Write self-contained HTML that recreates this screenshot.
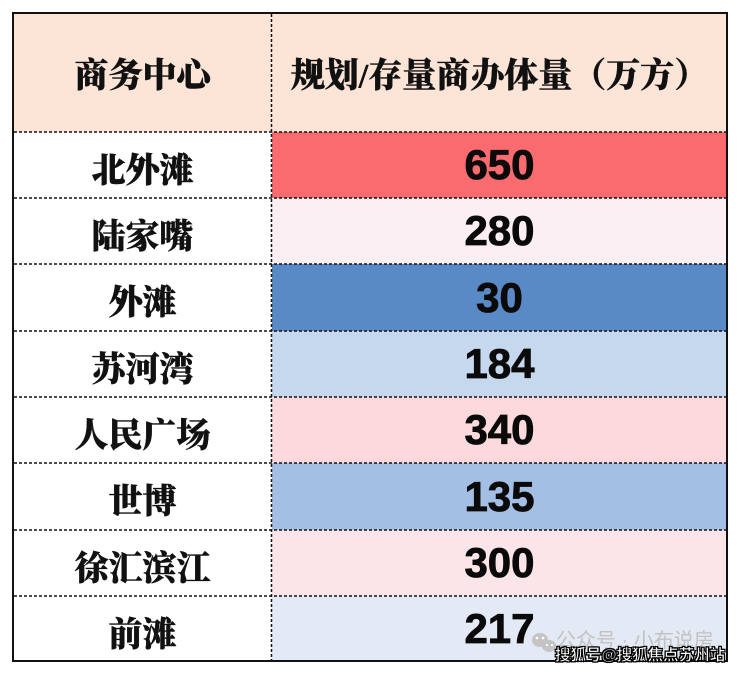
<!DOCTYPE html>
<html><head><meta charset="utf-8">
<style>
html,body{margin:0;padding:0;background:#fff;}
body{width:740px;height:675px;position:relative;overflow:hidden;}
.cell{position:absolute;display:flex;align-items:center;justify-content:center;}
.lab{font-family:"Liberation Serif","Noto Serif CJK SC",serif;font-weight:900;font-size:34px;color:#111;-webkit-text-stroke:0.4px #111;}
.num{font-family:"Liberation Sans","Noto Sans CJK SC",sans-serif;font-weight:bold;font-size:42px;color:#0a0a0a;-webkit-text-stroke:0.8px #0a0a0a;}
</style></head><body>
<!-- backgrounds -->
<div class="cell" style="left:13px;top:13px;width:714px;height:119px;background:#FCE4D6;"></div>
<div class="cell" style="left:272px;top:132px;width:455px;height:66px;background:#F96B6F;"></div>
<div class="cell" style="left:272px;top:198px;width:455px;height:66px;background:#FCEFF3;"></div>
<div class="cell" style="left:272px;top:264px;width:455px;height:67px;background:#5A8AC6;"></div>
<div class="cell" style="left:272px;top:331px;width:455px;height:66px;background:#C6D8EE;"></div>
<div class="cell" style="left:272px;top:397px;width:455px;height:66px;background:#FBD9DD;"></div>
<div class="cell" style="left:272px;top:463px;width:455px;height:67px;background:#A3BFE3;"></div>
<div class="cell" style="left:272px;top:530px;width:455px;height:66px;background:#FCE5E8;"></div>
<div class="cell" style="left:272px;top:596px;width:455px;height:66px;background:#E3E9F5;"></div>

<svg width="740" height="675" style="position:absolute;left:0;top:0" xmlns="http://www.w3.org/2000/svg">
<g stroke="#111" stroke-width="1.5" stroke-dasharray="3 2" fill="none">
<line x1="14" y1="132" x2="726" y2="132"/>
<line x1="14" y1="198" x2="726" y2="198"/>
<line x1="14" y1="264" x2="726" y2="264"/>
<line x1="14" y1="331" x2="726" y2="331"/>
<line x1="14" y1="397" x2="726" y2="397"/>
<line x1="14" y1="463" x2="726" y2="463"/>
<line x1="14" y1="530" x2="726" y2="530"/>
<line x1="14" y1="596" x2="726" y2="596"/>
<line x1="271.5" y1="14" x2="271.5" y2="661"/>
</g>
<rect x="13" y="13" width="714" height="648" fill="none" stroke="#111" stroke-width="2"/>
<!-- wechat icon -->
<g fill="#c4c4c4">
<ellipse cx="540" cy="640" rx="8" ry="7"/>
<ellipse cx="549" cy="646" rx="7" ry="6"/>
</g>
<g fill="#fff">
<circle cx="537" cy="638" r="1.3"/><circle cx="543" cy="638" r="1.3"/>
<circle cx="547" cy="645" r="1.1"/><circle cx="552" cy="645" r="1.1"/>
</g>
</svg>

<div class="cell lab" style="left:13px;top:13px;width:259px;height:119px;">商务中心</div>
<div class="cell lab" style="left:272px;top:13px;width:455px;height:119px;">规划/存量商办体量（万方）</div>

<div class="cell lab" style="left:13px;top:134px;width:259px;height:66px;">北外滩</div>
<div class="cell lab" style="left:13px;top:200px;width:259px;height:66px;">陆家嘴</div>
<div class="cell lab" style="left:13px;top:266px;width:259px;height:66px;">外滩</div>
<div class="cell lab" style="left:13px;top:333px;width:259px;height:66px;">苏河湾</div>
<div class="cell lab" style="left:13px;top:399px;width:259px;height:66px;">人民广场</div>
<div class="cell lab" style="left:13px;top:465px;width:259px;height:66px;">世博</div>
<div class="cell lab" style="left:13px;top:532px;width:259px;height:66px;">徐汇滨江</div>
<div class="cell lab" style="left:13px;top:598px;width:259px;height:66px;">前滩</div>

<div class="cell num" style="left:272px;top:132px;width:455px;height:66px;">650</div>
<div class="cell num" style="left:272px;top:198px;width:455px;height:66px;">280</div>
<div class="cell num" style="left:272px;top:264px;width:455px;height:67px;">30</div>
<div class="cell num" style="left:272px;top:331px;width:455px;height:66px;">184</div>
<div class="cell num" style="left:272px;top:397px;width:455px;height:66px;">340</div>
<div class="cell num" style="left:272px;top:463px;width:455px;height:67px;">135</div>
<div class="cell num" style="left:272px;top:530px;width:455px;height:66px;">300</div>
<div class="cell num" style="left:272px;top:596px;width:455px;height:66px;">217</div>

<div style="position:absolute;left:556px;top:629px;font-family:'Liberation Sans','Noto Sans CJK SC',sans-serif;font-size:20px;color:#c2c2c2;line-height:24px;white-space:nowrap;">公众号 · 小布说房</div>
<div style="position:absolute;left:555px;top:647px;font-family:'Liberation Sans','Noto Sans CJK SC',sans-serif;font-weight:bold;font-size:15.5px;color:#fff;line-height:18px;white-space:nowrap;-webkit-text-stroke:0.6px #000;text-shadow:1px 1px 0 #000,-1px -1px 0 #000,1px -1px 0 #000,-1px 1px 0 #000;">搜狐号@搜狐焦点苏州站</div>
</body></html>
